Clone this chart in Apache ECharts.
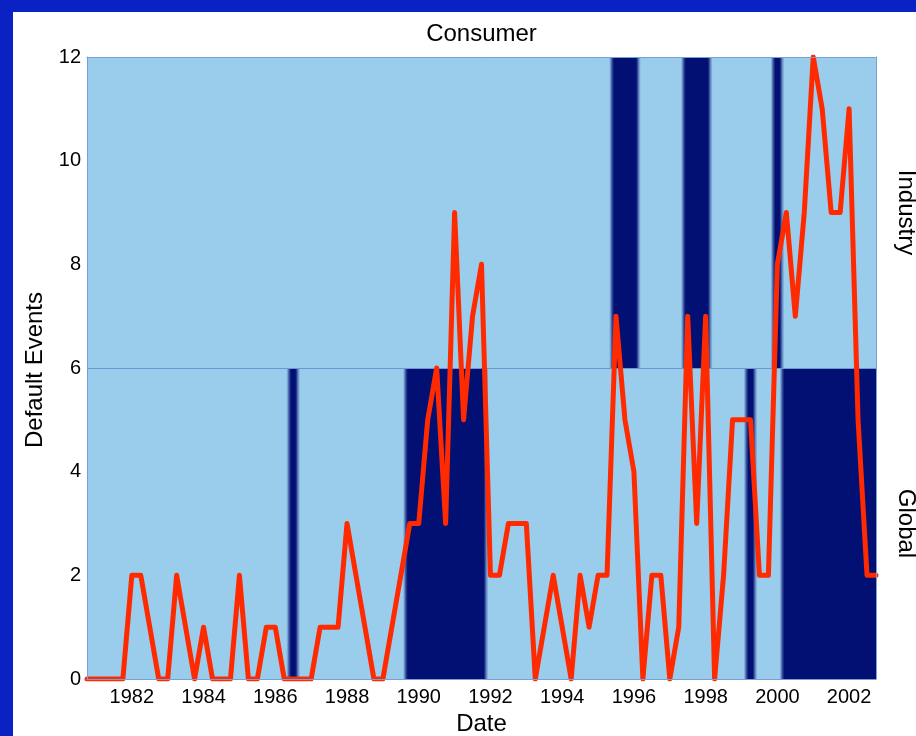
<!DOCTYPE html>
<html>
<head>
<meta charset="utf-8">
<script src="https://cdn.jsdelivr.net/npm/echarts/dist/echarts.min.js"></script>
<style>
html,body{margin:0;padding:0;background:#0A22C4;}
#chart{width:916px;height:736px;}
</style>
</head>
<body>
<div id="chart"></div>
<script>
// Quarterly dates (decimal years)
const dates = [
  1980.75,
  1981, 1981.25, 1981.5, 1981.75,
  1982, 1982.25, 1982.5, 1982.75,
  1983, 1983.25, 1983.5, 1983.75,
  1984, 1984.25, 1984.5, 1984.75,
  1985, 1985.25, 1985.5, 1985.75,
  1986, 1986.25, 1986.5, 1986.75,
  1987, 1987.25, 1987.5, 1987.75,
  1988, 1988.25, 1988.5, 1988.75,
  1989, 1989.25, 1989.5, 1989.75,
  1990, 1990.25, 1990.5, 1990.75,
  1991, 1991.25, 1991.5, 1991.75,
  1992, 1992.25, 1992.5, 1992.75,
  1993, 1993.25, 1993.5, 1993.75,
  1994, 1994.25, 1994.5, 1994.75,
  1995, 1995.25, 1995.5, 1995.75,
  1996, 1996.25, 1996.5, 1996.75,
  1997, 1997.25, 1997.5, 1997.75,
  1998, 1998.25, 1998.5, 1998.75,
  1999, 1999.25, 1999.5, 1999.75,
  2000, 2000.25, 2000.5, 2000.75,
  2001, 2001.25, 2001.5, 2001.75,
  2002, 2002.25, 2002.5, 2002.75
];

// Default events per quarter
const defaultEvents = [
  0,
  0, 0, 0, 0,
  2, 2, 1, 0,
  0, 2, 1, 0,
  1, 0, 0, 0,
  2, 0, 0, 1,
  1, 0, 0, 0,
  0, 1, 1, 1,
  3, 2, 1, 0,
  0, 1, 2, 3,
  3, 5, 6, 3,
  9, 5, 7, 8,
  2, 2, 3, 3,
  3, 0, 1, 2,
  1, 0, 2, 1,
  2, 2, 7, 5,
  4, 0, 2, 2,
  0, 1, 7, 3,
  7, 0, 2, 5,
  5, 5, 2, 2,
  8, 9, 7, 9,
  12, 11, 9, 9,
  11, 5, 2, 2
];

// Industry regime (upper band, 1 = dark)
const industryRegime = [
  0,
  0, 0, 0, 0,
  0, 0, 0, 0,
  0, 0, 0, 0,
  0, 0, 0, 0,
  0, 0, 0, 0,
  0, 0, 0, 0,
  0, 0, 0, 0,
  0, 0, 0, 0,
  0, 0, 0, 0,
  0, 0, 0, 0,
  0, 0, 0, 0,
  0, 0, 0, 0,
  0, 0, 0, 0,
  0, 0, 0, 0,
  0, 0, 1, 1,
  1, 0, 0, 0,
  0, 0, 1, 1,
  1, 0, 0, 0,
  0, 0, 0, 0,
  1, 0, 0, 0,
  0, 0, 0, 0,
  0, 0, 0, 0
];

// Global regime (lower band, 1 = dark)
const globalRegime = [
  0,
  0, 0, 0, 0,
  0, 0, 0, 0,
  0, 0, 0, 0,
  0, 0, 0, 0,
  0, 0, 0, 0,
  0, 0, 1, 0,
  0, 0, 0, 0,
  0, 0, 0, 0,
  0, 0, 0, 1,
  1, 1, 1, 1,
  1, 1, 1, 1,
  0, 0, 0, 0,
  0, 0, 0, 0,
  0, 0, 0, 0,
  0, 0, 0, 0,
  0, 0, 0, 0,
  0, 0, 0, 0,
  0, 0, 0, 0,
  0, 1, 0, 0,
  0, 1, 1, 1,
  1, 1, 1, 1,
  1, 1, 1, 1
];

const xTicks = [1982, 1984, 1986, 1988, 1990, 1992, 1994, 1996, 1998, 2000, 2002];
const yTicks = [0, 2, 4, 6, 8, 10, 12];
const rowNames = ['Global', 'Industry'];

const LIGHT = [154, 204, 235];
const DARK = [2, 15, 115];
const FONT = '"Liberation Sans", Arial, Helvetica, sans-serif';

function rgb(a) { return 'rgb(' + a.map(Math.round).join(',') + ')'; }
function colorOf(s) { return s ? DARK : LIGHT; }
function mix(a, b) { return a.map((v, i) => (v + b[i]) / 2); }

const cells = [];
[globalRegime, industryRegime].forEach((reg, row) => {
  for (let i = 0; i < dates.length; i++) {
    const p = i > 0 ? reg[i - 1] : reg[i];
    const n = i < reg.length - 1 ? reg[i + 1] : reg[i];
    cells.push([dates[i], row, reg[i], p, n]);
  }
});

const halfStep = 0.125;

const chart = echarts.init(document.getElementById('chart'));
const axisColor = '#7a9fd6';

chart.setOption({
  backgroundColor: '#0A22C4',
  animation: false,
  textStyle: { fontFamily: FONT },
  grid: { left: 87, right: 40, top: 57, bottom: 57, containLabel: false },
  xAxis: [{
    type: 'value', min: dates[0], max: dates[dates.length - 1],
    z: 10,
    axisLine: { show: true, lineStyle: { color: axisColor, width: 1 } },
    axisTick: { show: false },
    splitLine: { show: false },
    axisLabel: {
      customValues: xTicks, color: '#000', fontSize: 20, fontFamily: FONT, margin: 8,
      formatter: v => String(Math.round(v))
    }
  }, {
    type: 'value', min: dates[0], max: dates[dates.length - 1], position: 'top',
    z: 10,
    axisLine: { show: true, onZero: false, lineStyle: { color: axisColor, width: 1 } },
    axisTick: { show: false }, axisLabel: { show: false }, splitLine: { show: false }
  }],
  yAxis: [{
    type: 'value', min: yTicks[0], max: yTicks[yTicks.length - 1], interval: 2,
    z: 10,
    axisLine: { show: true, lineStyle: { color: axisColor, width: 1 } },
    axisTick: { show: false },
    splitLine: { show: false },
    axisLabel: { color: '#000', fontSize: 20, fontFamily: FONT, margin: 6 }
  }, {
    type: 'value', min: yTicks[0], max: yTicks[yTicks.length - 1], position: 'right',
    z: 10,
    axisLine: { show: true, onZero: false, lineStyle: { color: axisColor, width: 1 } },
    axisTick: { show: false }, axisLabel: { show: false }, splitLine: { show: false }
  }],
  graphic: [
    { type: 'rect', z: -10, silent: true, shape: { x: 13, y: 12, width: 920, height: 740 }, style: { fill: '#ffffff' } },
    { type: 'text', x: 481.5, y: 34, silent: true,
      style: { text: 'Consumer', fontSize: 24, fontFamily: FONT, fill: '#000', align: 'center', verticalAlign: 'middle', textAlign: 'center', textVerticalAlign: 'middle' } },
    { type: 'text', x: 481.5, y: 724, silent: true,
      style: { text: 'Date', fontSize: 24, fontFamily: FONT, fill: '#000', align: 'center', verticalAlign: 'middle', textAlign: 'center', textVerticalAlign: 'middle' } },
    { type: 'text', x: 35, y: 370, rotation: Math.PI / 2, silent: true,
      style: { text: 'Default Events', fontSize: 24, fontFamily: FONT, fill: '#000', align: 'center', verticalAlign: 'middle', textAlign: 'center', textVerticalAlign: 'middle' } },
    { type: 'text', x: 906, y: 212.5, rotation: -Math.PI / 2, silent: true,
      style: { text: rowNames[1], fontSize: 24, fontFamily: FONT, fill: '#000', align: 'center', verticalAlign: 'middle', textAlign: 'center', textVerticalAlign: 'middle' } },
    { type: 'text', x: 906, y: 523.5, rotation: -Math.PI / 2, silent: true,
      style: { text: rowNames[0], fontSize: 24, fontFamily: FONT, fill: '#000', align: 'center', verticalAlign: 'middle', textAlign: 'center', textVerticalAlign: 'middle' } }
  ],
  series: [{
    type: 'custom',
    clip: true,
    z: 2,
    silent: true,
    data: cells,
    renderItem: function (params, api) {
      const t = api.value(0), row = api.value(1);
      const s = api.value(2), p = api.value(3), n = api.value(4);
      const y0 = row === 0 ? 0 : 6, y1 = row === 0 ? 6 : 12;
      const a = api.coord([t - halfStep, y1]);
      const b = api.coord([t + halfStep, y0]);
      const W = b[0] - a[0];
      const cur = colorOf(s);
      const f = Math.min(0.45, 2.6 / W);
      return {
        type: 'rect',
        shape: { x: a[0] - 0.4, y: a[1], width: W + 0.8, height: b[1] - a[1] },
        style: {
          fill: {
            type: 'linear', x: 0, y: 0, x2: 1, y2: 0,
            colorStops: [
              { offset: 0, color: rgb(mix(colorOf(p), cur)) },
              { offset: f, color: rgb(cur) },
              { offset: 1 - f, color: rgb(cur) },
              { offset: 1, color: rgb(mix(cur, colorOf(n))) }
            ]
          }
        }
      };
    },
    markLine: {
      silent: true, symbol: ['none', 'none'], label: { show: false },
      lineStyle: { color: '#6f96d4', width: 1, type: 'solid' },
      data: [{ yAxis: 6 }]
    }
  }, {
    type: 'line',
    z: 5,
    clip: true,
    showSymbol: false,
    silent: true,
    data: dates.map((d, i) => [d, defaultEvents[i]]),
    lineStyle: { color: '#FF2A00', width: 5, cap: 'round', join: 'round' }
  }]
});
</script>
</body>
</html>
